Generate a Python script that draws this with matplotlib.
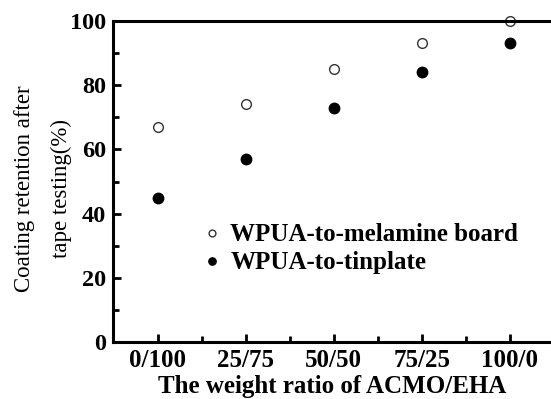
import matplotlib
matplotlib.use("Agg")
import matplotlib.pyplot as plt
from matplotlib.ticker import MultipleLocator

categories = ["0/100", "25/75", "50/50", "75/25", "100/0"]
melamine = [67, 74, 85, 93, 100]
tinplate = [45, 57, 73, 84, 93]

plt.rcParams['font.family'] = ['Liberation Serif', 'DejaVu Serif']

fig = plt.figure(figsize=(5.51, 3.99), dpi=100)
ax = fig.add_axes([113/551, 1 - 342/399, 1 - 113/551, (342 - 21)/399])

x = list(range(1, len(categories) + 1))
ax.plot(x, melamine, linestyle='none', marker='o', markersize=7,
        markerfacecolor='white', markeredgecolor='#333333', markeredgewidth=1.0,
        label='WPUA-to-melamine board', clip_on=False)
ax.plot(x, tinplate, linestyle='none', marker='o', markersize=7.5,
        markerfacecolor='black', markeredgecolor='black',
        label='WPUA-to-tinplate', clip_on=False)

ax.set_xlim(0.49, 5.47)
ax.set_ylim(0, 100)
ax.set_xticks(x)
ax.set_xticklabels(categories, fontsize=18, fontweight='bold')
ax.set_xticks([i + 0.5 for i in x[:-1]], minor=True)
ax.yaxis.set_major_locator(MultipleLocator(20))
ax.yaxis.set_minor_locator(MultipleLocator(10))
for lab in ax.get_yticklabels():
    lab.set_fontsize(17.5)
    lab.set_fontweight('bold')
ax.tick_params(axis='both', which='major', direction='in', length=6, width=2, pad=5)
ax.tick_params(axis='both', which='minor', direction='in', length=4, width=2)

for s in ['left', 'bottom', 'top']:
    ax.spines[s].set_linewidth(2.2)
ax.spines['right'].set_visible(False)

ax.set_xlabel('The weight ratio of ACMO/EHA', fontsize=18, fontweight='bold', labelpad=2)
ax.set_ylabel('Coating retention after\ntape testing(%)', fontsize=16.5,
              linespacing=1.95)
ax.yaxis.set_label_coords(-0.094, 0.478)

leg = ax.legend(loc='upper left', bbox_to_anchor=(0.316, 0.4967),
                bbox_transform=fig.transFigure, frameon=False,
                prop={'size': 18, 'weight': 'bold'}, handletextpad=0.15,
                markerscale=0.7, labelspacing=0.2, handlelength=1.2)

fig.savefig('out.png', dpi=100)
